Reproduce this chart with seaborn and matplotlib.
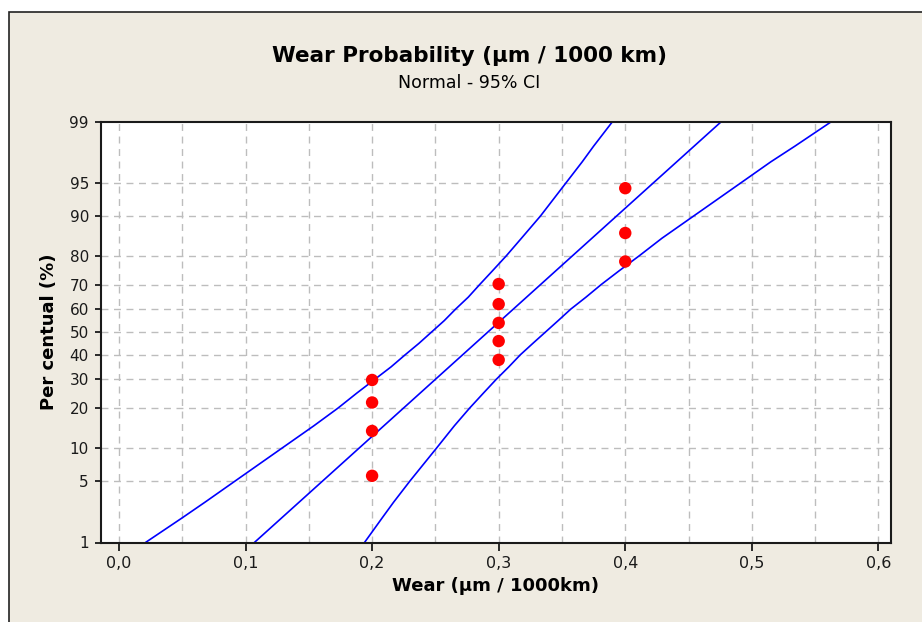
"""
Normal probability plot of wear rate with 95% confidence band (Minitab style).
"""

from statistics import NormalDist

import numpy as np
import matplotlib
matplotlib.use("Agg")
import matplotlib.pyplot as plt
from matplotlib.patches import Rectangle
import seaborn as sns

# Observed wear values and their plotting positions (%)
wear_values = [0.2, 0.2, 0.2, 0.2, 0.3, 0.3, 0.3, 0.3, 0.3, 0.4, 0.4, 0.4]
wear_percent = [5.6, 13.7, 21.8, 29.8, 37.9, 46.0, 54.0, 62.1, 70.2, 78.2, 86.3, 94.4]

# Fitted line (read at the ends of the axis)
fit_percent = [1, 99]
fit_wear = [0.107, 0.476]

# 95% CI band, read at these percentiles
band_percent = [1, 2, 3, 5, 10, 15, 20, 25, 30, 35, 40, 45, 50,
                55, 60, 65, 70, 75, 80, 85, 90, 95, 97, 98, 99]
band_low = [0.021, 0.050, 0.068, 0.092, 0.129, 0.154, 0.173, 0.188, 0.202,
            0.215, 0.226, 0.237, 0.247, 0.257, 0.266, 0.276, 0.285, 0.295,
            0.306, 0.318, 0.333, 0.353, 0.366, 0.375, 0.390]
band_high = [0.194, 0.208, 0.217, 0.230, 0.251, 0.265, 0.277, 0.288, 0.298,
             0.308, 0.317, 0.327, 0.337, 0.347, 0.357, 0.369, 0.381, 0.395,
             0.411, 0.429, 0.454, 0.491, 0.515, 0.534, 0.563]

x_ticks = [0.0, 0.1, 0.2, 0.3, 0.4, 0.5, 0.6]
x_tick_labels = ["0,0", "0,1", "0,2", "0,3", "0,4", "0,5", "0,6"]
x_grid = [0.0, 0.05, 0.1, 0.15, 0.2, 0.25, 0.3, 0.35, 0.4, 0.45, 0.5, 0.55, 0.6]
y_ticks = [1, 5, 10, 20, 30, 40, 50, 60, 70, 80, 90, 95, 99]

BG = "#EFEBE1"

sns.set_theme(style="ticks", rc={
    "axes.edgecolor": "#1a1a1a",
    "axes.linewidth": 1.5,
    "xtick.color": "#1a1a1a",
    "ytick.color": "#1a1a1a",
    "text.color": "black",
    "axes.labelcolor": "black",
})
plt.rcParams["font.family"] = ["DejaVu Sans"]

_nd = NormalDist()


def to_z(p):
    p = np.clip(np.asarray(p, dtype=float) / 100.0, 1e-9, 1 - 1e-9)
    return np.vectorize(_nd.inv_cdf, otypes=[float])(p)


def from_z(z):
    z = np.asarray(z, dtype=float)
    return np.vectorize(_nd.cdf, otypes=[float])(z) * 100.0


fig = plt.figure(figsize=(9.22, 6.22), dpi=100, facecolor="white")
fig.patches.append(Rectangle((9 / 922, -0.05), 1.0, (622 - 12) / 622 + 0.05,
                             transform=fig.transFigure, facecolor=BG,
                             edgecolor="#222222", linewidth=1.2, zorder=-10))

ax = fig.add_axes([100.7 / 922, (622 - 542.5) / 622,
                   (890.7 - 100.7) / 922, (542.5 - 121.5) / 622])
ax.set_facecolor("white")
ax.set_yscale("function", functions=(to_z, from_z))

# grid
for gx in x_grid:
    ax.axvline(gx, color="#BDBDBD", lw=1.0, ls=(0, (5, 4)), zorder=1)
for gy in y_ticks[1:-1]:
    ax.axhline(gy, color="#BDBDBD", lw=1.0, ls=(0, (5, 4)), zorder=1)

sns.lineplot(x=band_low, y=band_percent, sort=False, estimator=None,
             color="#0000FF", lw=1.2, ax=ax, zorder=3)
sns.lineplot(x=band_high, y=band_percent, sort=False, estimator=None,
             color="#0000FF", lw=1.2, ax=ax, zorder=3)
sns.lineplot(x=fit_wear, y=fit_percent, sort=False, estimator=None,
             color="#0000FF", lw=1.2, ax=ax, zorder=3)
sns.scatterplot(x=wear_values, y=wear_percent, color="#FF0000", s=80,
                edgecolor="none", ax=ax, zorder=4)

ax.set_xlim(-0.0144, 0.6097)
ax.set_ylim(1, 99)
ax.set_xticks(x_ticks)
ax.set_xticklabels(x_tick_labels)
ax.set_yticks(y_ticks)
ax.set_yticklabels([str(t) for t in y_ticks])
ax.yaxis.set_minor_locator(matplotlib.ticker.NullLocator())
ax.tick_params(axis="x", length=6, width=1.3, pad=4, labelsize=11.5)
ax.tick_params(axis="y", length=4.5, width=1.3, pad=4, labelsize=11)
for s in ax.spines.values():
    s.set_visible(True)
    s.set_zorder(5)

ax.set_xlabel("Wear (µm / 1000km)", fontsize=13, fontweight="bold", labelpad=4)
ax.set_ylabel("Per centual (%)", fontsize=13, fontweight="bold", labelpad=8)

fig.text(469 / 922, 1 - 56 / 622, "Wear Probability (µm / 1000 km)",
         ha="center", va="center", fontsize=15.5, fontweight="bold")
fig.text(469 / 922, 1 - 83 / 622, "Normal - 95% CI",
         ha="center", va="center", fontsize=12.5)

fig.savefig("out.png", dpi=100, facecolor=fig.get_facecolor())
